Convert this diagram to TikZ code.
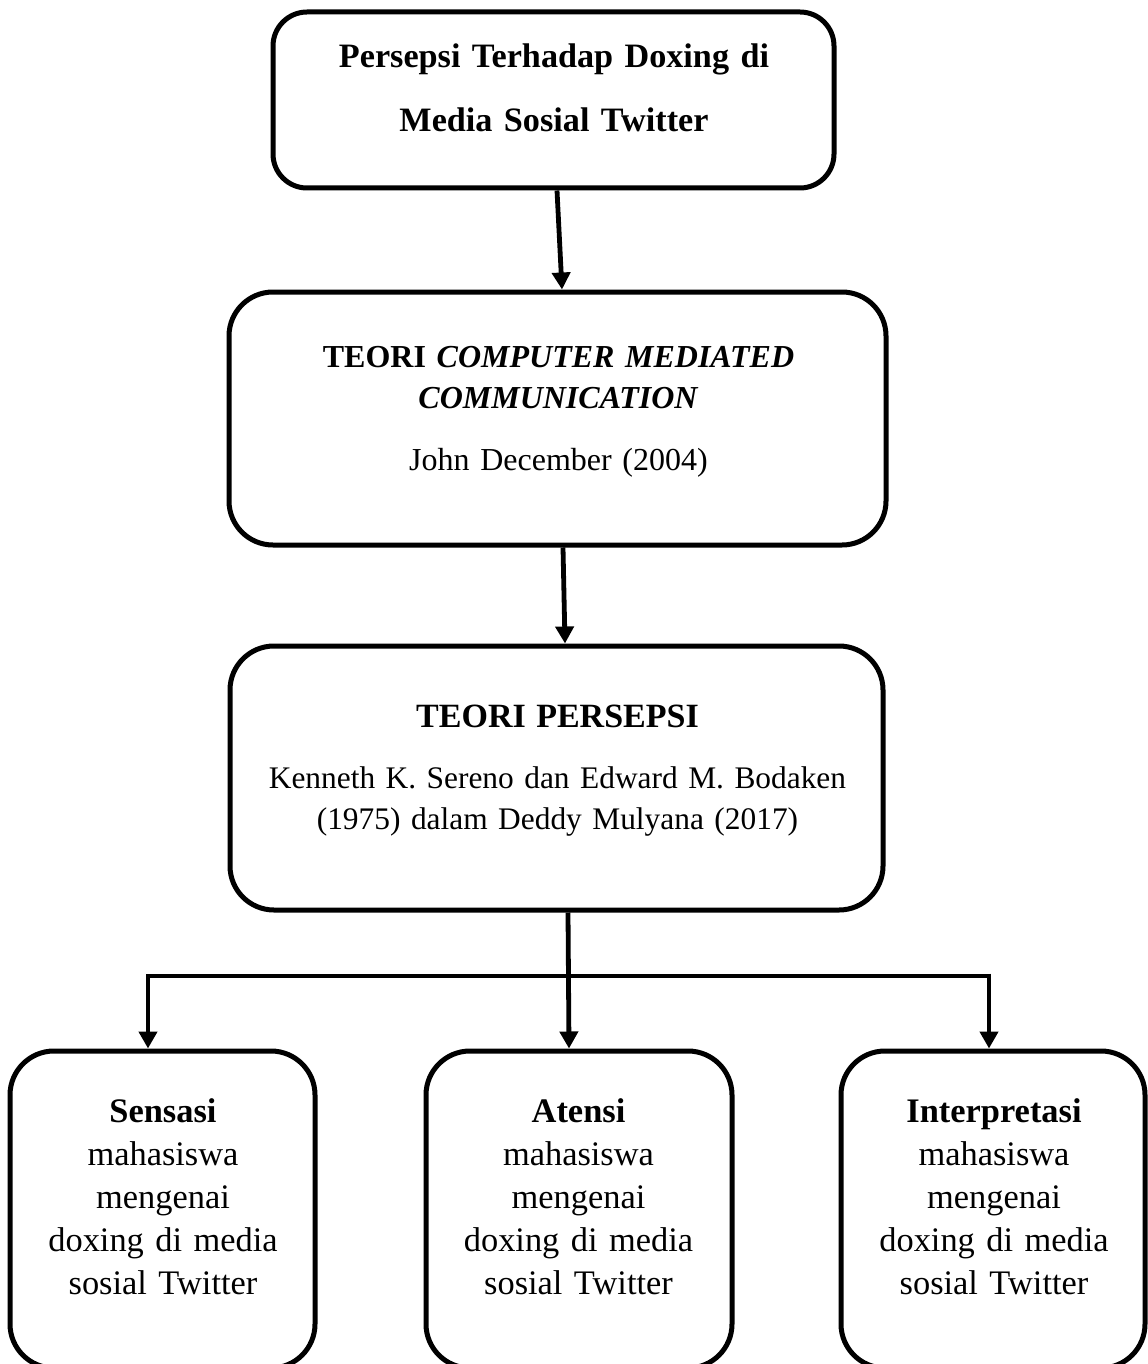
\documentclass[tikz,border=0pt]{standalone}
\usepackage{fontspec}
\setmainfont{Liberation Serif}
\usetikzlibrary{arrows.meta}
\begin{document}
\begin{tikzpicture}[x=0.5pt,y=-0.5pt,
  box/.style={draw, line width=2.5pt, rounded corners=22pt, inner sep=0pt},
  txt/.style={anchor=base, align=center, inner sep=0pt, text width=340pt, font=\fontsize{16}{20.5}\selectfont},
  btxt/.style={txt, text width=150pt, font=\fontsize{17.2}{21.5}\selectfont},
  arr/.style={line width=2.4pt, -{Triangle[length=8.5pt,width=9pt]}}]
\useasboundingbox (0,0) rectangle (1147,1364);
% boxes
\node[box, rounded corners=17pt, minimum width=280.5pt, minimum height=88pt] (b1) at (553.5,100) {};
\node[box, minimum width=328.5pt, minimum height=126.5pt] (b2) at (557.5,418.5) {};
\node[box, minimum width=326.5pt, minimum height=132pt] (b3) at (556.5,778) {};
\node[box, minimum width=152.5pt, minimum height=158.5pt] (bl) at (162.5,1209.5) {};
\node[box, minimum width=153pt, minimum height=158.5pt] (bm) at (579,1209.5) {};
\node[box, minimum width=152pt, minimum height=158.5pt] (br) at (993,1209.5) {};
% texts
\node[txt, font=\fontsize{17.1}{20.5}\selectfont] (t1) at (554,68) {\textbf{Persepsi Terhadap Doxing di}\\[11.5pt]\textbf{Media Sosial Twitter}};
\node[txt] (t2) at (558.5,367) {\textbf{TEORI \textit{COMPUTER MEDIATED}}\\\textbf{\textit{COMMUNICATION}}\\[10.5pt]John December (2004)};
\node[txt, font=\fontsize{15.7}{20.5}\selectfont] (t3) at (557.5,727) {{\fontsize{17}{20.5}\selectfont\bfseries TEORI PERSEPSI}\\[10pt]Kenneth K. Sereno dan Edward M. Bodaken\\(1975) dalam Deddy Mulyana (2017)};
\node[btxt] (tl) at (163,1122) {\textbf{Sensasi}\\mahasiswa\\mengenai\\doxing di media\\sosial Twitter};
\node[btxt] (tm) at (578.5,1122) {\textbf{Atensi}\\mahasiswa\\mengenai\\doxing di media\\sosial Twitter};
\node[btxt] (tr) at (994,1122) {\textbf{Interpretasi}\\mahasiswa\\mengenai\\doxing di media\\sosial Twitter};
% connectors
\coordinate (hl) at (148,976);
\coordinate (hr) at (989,976);
\draw[arr] ([xshift=1.75pt]b1.south) -- ([xshift=2.25pt]b2.north);
\draw[arr] ([xshift=2.75pt]b2.south) -- ([xshift=4.25pt]b3.north);
\draw[arr] ([xshift=5.75pt]b3.south) -- ([xshift=-5pt]bm.north);
\draw[arr] (hr) -- (hl) -- (bl.north -| hl);
\draw[arr] ([yshift=1.2pt]hr) -- (br.north -| hr);
\end{tikzpicture}
\end{document}
